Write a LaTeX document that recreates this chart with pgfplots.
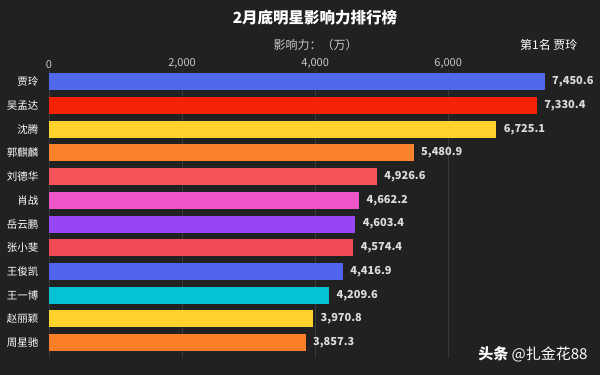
\documentclass[border=0pt]{standalone}
\usepackage{fontspec}
\setmainfont{Noto Sans CJK SC}
\usepackage{pgfplots}
\pgfplotsset{compat=1.18}
\definecolor{bg}{HTML}{212121}
\definecolor{gridc}{HTML}{3A3A3A}
\definecolor{tickc}{HTML}{C8C8C8}
\definecolor{valc}{HTML}{DCDCDC}
\definecolor{c1}{HTML}{5069EB}
\definecolor{c2}{HTML}{F52305}
\definecolor{c3}{HTML}{FDD22D}
\definecolor{c4}{HTML}{FA822D}
\definecolor{c5}{HTML}{F5555A}
\definecolor{c6}{HTML}{F055C8}
\definecolor{c7}{HTML}{9646F5}
\definecolor{c8}{HTML}{F04B55}
\definecolor{c9}{HTML}{5064EB}
\definecolor{c10}{HTML}{05C3D2}
\definecolor{c11}{HTML}{FDD22D}
\definecolor{c12}{HTML}{FA7D28}
\pgfplotsset{
  mybar/.style={xbar, bar width=17pt, bar shift=0pt, draw=none, fill=#1,
    point meta=x,
    nodes near coords={\pgfmathprintnumber[fixed,fixed zerofill,precision=1,1000 sep={,}]{\pgfplotspointmeta}},
    every node near coord/.append style={anchor=west, xshift=4pt, font=\bfseries\fontsize{11}{11}\selectfont, text=valc}}
}
\begin{document}
\begin{tikzpicture}[x=1pt,y=1pt]
\fill[bg] (0,0) rectangle (600,-375);
\useasboundingbox (0,0) rectangle (600,-375);
\node[text=white, font=\bfseries\fontsize{15.5}{15.5}\selectfont] at (315,-18) {2月底明星影响力排行榜};
\node[text=tickc, font=\fontsize{12}{12}\selectfont, anchor=west] at (270,-45) {影响力：（万）};
\node[text=white, font=\fontsize{12}{12}\selectfont, anchor=east] at (581,-45) {第1名 贾玲};
\node[text=white, font=\fontsize{15}{15}\selectfont, anchor=east] at (591,-354) {{\bfseries 头条} @扎金花88};
\begin{axis}[
  at={(49pt,-70pt)}, anchor=north west,
  scale only axis, width=499pt, height=288pt,
  xmin=0, xmax=7500, ymin=-0.5, ymax=11.65,
  y dir=reverse, clip=false,
  xtick={0,2000,4000,6000},
  xticklabel pos=upper,
  /pgf/number format/assume math mode=true,
  /pgf/number format/1000 sep={,},
  xticklabel style={font=\fontsize{11}{11}\selectfont, text=tickc, yshift=-2pt},
  ytick={0,...,11},
  yticklabels={贾玲,吴孟达,沈腾,郭麒麟,刘德华,肖战,岳云鹏,张小斐,王俊凯,王一博,赵丽颖,周星驰},
  yticklabel style={font=\fontsize{10.5}{10.5}\selectfont, text=white, xshift=-7pt},
  xmajorgrids, major grid style={draw=gridc, line width=0.8pt},
  axis line style={draw=none}, tick style={draw=none},
  major tick length=0pt,
]
\addplot[mybar=c1] coordinates {(7450.6,0)};
\addplot[mybar=c2] coordinates {(7330.4,1)};
\addplot[mybar=c3] coordinates {(6725.1,2)};
\addplot[mybar=c4] coordinates {(5480.9,3)};
\addplot[mybar=c5] coordinates {(4926.6,4)};
\addplot[mybar=c6] coordinates {(4662.2,5)};
\addplot[mybar=c7] coordinates {(4603.4,6)};
\addplot[mybar=c8] coordinates {(4574.4,7)};
\addplot[mybar=c9] coordinates {(4416.9,8)};
\addplot[mybar=c10] coordinates {(4209.6,9)};
\addplot[mybar=c11] coordinates {(3970.8,10)};
\addplot[mybar=c12] coordinates {(3857.3,11)};
\end{axis}
\end{tikzpicture}
\end{document}
